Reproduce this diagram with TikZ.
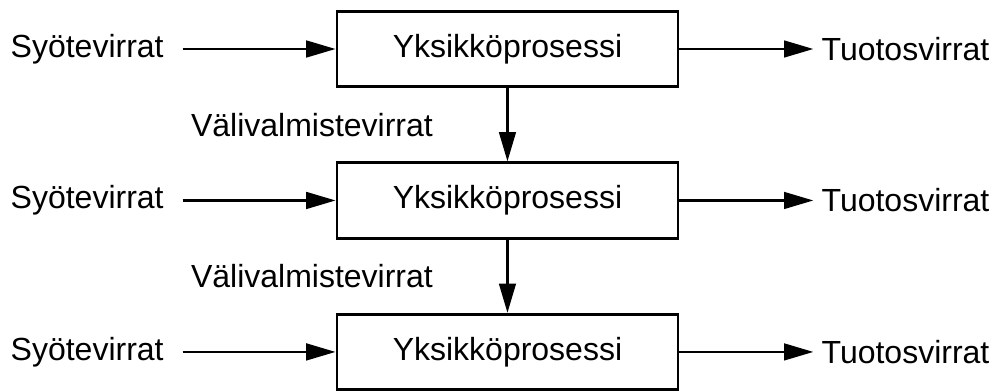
\documentclass[tikz,border=0pt]{standalone}
\usepackage{fontspec}
\setmainfont{Liberation Sans}
\usetikzlibrary{arrows.meta,positioning}

\begin{document}
\begin{tikzpicture}[
  font=\fontsize{24}{28}\selectfont,
  prosessi/.style={draw, line width=2.1pt, minimum width=255.75pt,
              minimum height=56.5pt, align=center},
  syote/.style={inner sep=0pt, inner xsep=14pt},
  tuotos/.style={inner sep=0pt, inner xsep=6pt},
  vali/.style={inner sep=0pt},
  arrow/.style={-{Triangle[length=22pt,width=12.5pt]}, line width=1.9pt}, node distance=55pt
]
\useasboundingbox (-380.6pt,36.75pt) rectangle (367.9pt,-257.25pt);

\node[prosessi] (p1) {Yksikköprosessi};
\node[prosessi, below=of p1] (p2) {Yksikköprosessi};
\node[prosessi, below=of p2] (p3) {Yksikköprosessi};

\foreach \i in {1,2,3} {
  \node[syote, left=114.75pt of p\i] (in\i) {Syötevirrat};
  \node[tuotos, right=100.5pt of p\i] (out\i) {Tuotosvirrat};
  \draw[arrow] (in\i) -- (p\i);
  \draw[arrow] (p\i) -- (out\i);
}

\draw[arrow] (p1) -- node[vali, left=55pt] (vali1) {Välivalmistevirrat} (p2);
\draw[arrow] (p2) -- node[vali, left=55pt] (vali2) {Välivalmistevirrat} (p3);
\end{tikzpicture}
\end{document}
